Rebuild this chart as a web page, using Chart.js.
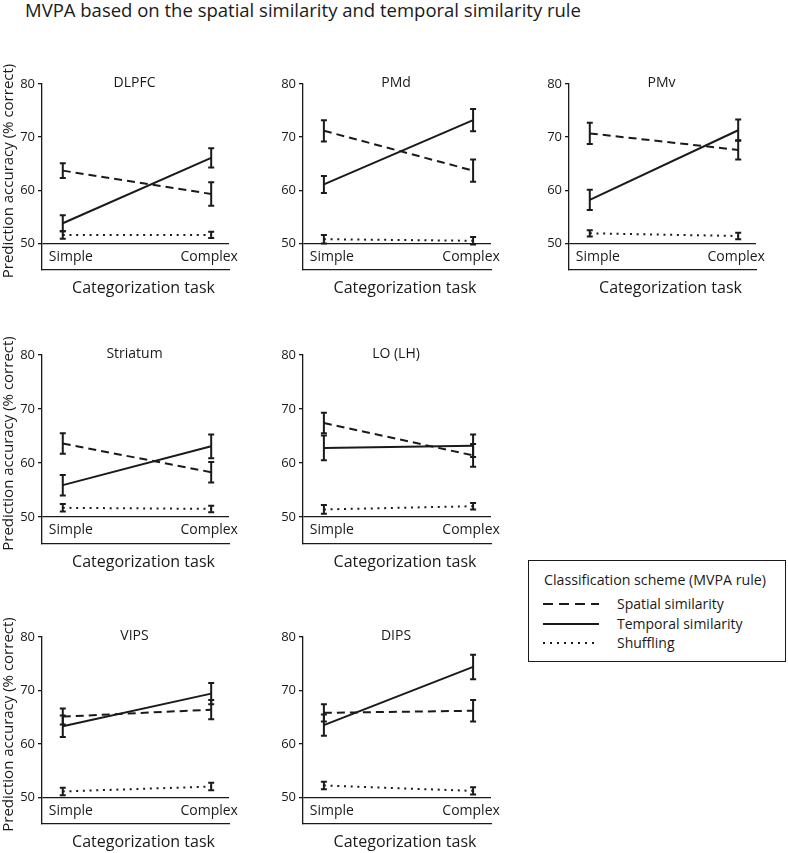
<!DOCTYPE html>
<html>
<head>
<meta charset="utf-8">
<script src="https://cdn.jsdelivr.net/npm/chart.js@4.4.1/dist/chart.umd.min.js"></script>
<style>
    body { margin: 0; background: #fff; width: 788px; height: 853px; position: relative; overflow: hidden;
           font-family: 'Open Sans', sans-serif; color: #1a1a1a; }
    .panel { position: absolute; }
    #mainTitle { position: absolute; left: 25px; top: -1px; font-size: 18.5px; line-height: 22px; white-space: nowrap; }
    #legend { position: absolute; left: 528px; top: 560px; width: 256px; height: 100px; border: 1.5px solid #1a1a1a; }
    #legend .head { position: absolute; left: 15px; top: 9px; font-size: 14.2px; line-height: 20px; white-space: nowrap; }
    #legend .row { position: absolute; left: 13px; height: 20px; width: 240px; }
    #legend .row svg { position: absolute; left: 0; top: 5px; }
    #legend .row span { position: absolute; left: 75px; top: 0; font-size: 14px; line-height: 20px; white-space: nowrap; }
</style>
</head>
<body>
<div id="mainTitle">MVPA based on the spatial similarity and temporal similarity rule</div>
<div id="legend"></div>
<script>
// ---- data ----
const regions = ['DLPFC', 'PMd', 'PMv', 'Striatum', 'LO (LH)', 'VIPS', 'DIPS'];
const tasks = ['Simple', 'Complex'];
const yTicks = [50, 60, 70, 80];

// [simple, complex] per region
const spatialMean  = [[63.7, 59.3], [71.2, 63.7], [70.7, 67.6], [63.6, 58.3], [67.4, 61.4], [65.1, 66.4], [65.8, 66.2]];
const spatialErr   = [[1.4, 2.2], [2.0, 2.1], [2.0, 1.8], [1.9, 1.9], [1.9, 2.1], [1.5, 1.8], [1.6, 2.0]];
const temporalMean = [[53.8, 66.1], [61.1, 73.2], [58.2, 71.3], [55.9, 63.1], [62.8, 63.2], [63.3, 69.4], [63.5, 74.4]];
const temporalErr  = [[1.5, 1.8], [1.6, 2.1], [1.9, 2.0], [1.9, 2.2], [2.3, 2.1], [2.0, 2.0], [2.0, 2.3]];
const shuffleMean  = [[51.6, 51.6], [50.8, 50.5], [51.9, 51.4], [51.7, 51.5], [51.4, 52.0], [51.1, 52.0], [52.2, 51.2]];
const shuffleErr   = [[0.7, 0.6], [0.8, 0.7], [0.6, 0.6], [0.7, 0.6], [0.8, 0.6], [0.7, 0.7], [0.7, 0.7]];

const seriesNames = ['Spatial similarity', 'Temporal similarity', 'Shuffling'];

// ---- layout / style ----
const ink = '#1a1a1a';
const fontFamily = "'Open Sans', sans-serif";
const dashes = [[8, 5], [], [2, 4.7]];
const legendDashes = ['10 6', '', '2 5'];

// grid slot of each region: [row, col]
const slots = [[0, 0], [0, 1], [0, 2], [1, 0], [1, 1], [2, 0], [2, 1]];
const colLeft = [42, 303, 569];
const colRight = [229, 491, 756];
const rowTop = [84, 355, 637];
const rowBottom = [270, 544, 824];
const padL = 42, padT = 20, padR = 24, padB = 34;

// draws error bars, panel title, task labels and axis titles
const panelDecor = {
    id: 'panelDecor',
    afterDatasetsDraw(chart, args, opts) {
        const { ctx, chartArea: a, scales: { x, y } } = chart;
        ctx.save();
        ctx.strokeStyle = ink;
        ctx.lineWidth = 2;
        ctx.setLineDash([]);
        chart.data.datasets.forEach(ds => {
            ds.data.forEach(p => {
                const px = x.getPixelForValue(p.x);
                const top = y.getPixelForValue(p.y + p.err);
                const bot = y.getPixelForValue(p.y - p.err);
                ctx.beginPath();
                ctx.moveTo(px, top); ctx.lineTo(px, bot);
                ctx.moveTo(px - 3, top); ctx.lineTo(px + 3, top);
                ctx.moveTo(px - 3, bot); ctx.lineTo(px + 3, bot);
                ctx.stroke();
            });
        });

        ctx.fillStyle = ink;
        ctx.textBaseline = 'middle';
        ctx.textAlign = 'center';
        const cx = (a.left + a.right) / 2;

        ctx.font = `14px ${fontFamily}`;
        ctx.fillText(opts.title, cx - 1, a.top - 1);

        ctx.font = `14px ${fontFamily}`;
        const ly = y.getPixelForValue(47.5);
        ctx.fillText(tasks[0], x.getPixelForValue(1) + 8, ly);
        ctx.fillText(tasks[1], x.getPixelForValue(2) - 2, ly);

        ctx.font = `16px ${fontFamily}`;
        ctx.fillText('Categorization task', cx + 8, a.bottom + 18);

        if (opts.yTitle) {
            ctx.font = `15px ${fontFamily}`;
            ctx.translate(a.left - 33, (a.top + a.bottom) / 2 - 6);
            ctx.rotate(-Math.PI / 2);
            ctx.fillText('Prediction accuracy (% correct)', 0, 0);
        }
        ctx.restore();
    }
};

function seriesData(means, errs) {
    return means.map((m, j) => ({ x: j + 1, y: m, err: errs[j] }));
}

function createPanel(i) {
    const [r, c] = slots[i];
    const w = colRight[c] - colLeft[c] + padL + padR;
    const h = rowBottom[r] - rowTop[r] + padT + padB;
    const canvas = document.createElement('canvas');
    canvas.className = 'panel';
    canvas.style.left = (colLeft[c] - padL) + 'px';
    canvas.style.top = (rowTop[r] - padT) + 'px';
    canvas.style.width = w + 'px';
    canvas.style.height = h + 'px';
    canvas.width = w;
    canvas.height = h;
    document.body.appendChild(canvas);

    const means = [spatialMean[i], temporalMean[i], shuffleMean[i]];
    const errs = [spatialErr[i], temporalErr[i], shuffleErr[i]];

    return new Chart(canvas, {
        type: 'line',
        data: {
            datasets: seriesNames.map((name, k) => ({
                label: name,
                data: seriesData(means[k], errs[k]),
                borderColor: ink,
                borderWidth: 2,
                borderDash: dashes[k],
                borderCapStyle: 'butt',
                pointRadius: 0,
                fill: false,
                tension: 0
            }))
        },
        options: {
            responsive: false,
            animation: false,
            events: [],
            layout: { padding: { left: 0, top: padT, right: padR, bottom: padB } },
            plugins: {
                legend: { display: false },
                tooltip: { enabled: false },
                panelDecor: { title: regions[i], yTitle: c === 0 }
            },
            scales: {
                x: {
                    type: 'linear',
                    min: 0.86,
                    max: 2.12,
                    ticks: { display: false },
                    grid: { display: true, drawTicks: false, color: 'rgba(0,0,0,0)' },
                    border: { display: true, color: ink, width: 1.3 },
                    afterFit: s => { s.height = 0; }
                },
                y: {
                    type: 'linear',
                    min: 45,
                    max: 80,
                    afterBuildTicks: s => { s.ticks = yTicks.map(v => ({ value: v })); },
                    ticks: {
                        color: ink,
                        padding: 3,
                        font: { family: fontFamily, size: 13 },
                        callback: v => v
                    },
                    grid: {
                        color: ctx => (ctx.tick && ctx.tick.value === 50) ? ink : 'rgba(0,0,0,0)',
                        lineWidth: 1.3,
                        tickColor: ink,
                        tickLength: 4
                    },
                    border: { display: true, color: ink, width: 1.3 },
                    afterFit: s => { s.width = padL; }
                }
            }
        },
        plugins: [panelDecor]
    });
}

regions.forEach((_, i) => createPanel(i));

// ---- shared legend ----
const legend = document.getElementById('legend');
legend.innerHTML = '<div class="head">Classification scheme (MVPA rule)</div>' +
    seriesNames.map((name, k) =>
        `<div class="row" style="top:${33 + k * 19.5}px">` +
        `<svg width="60" height="10"><line x1="1" y1="5" x2="57" y2="5" stroke="${ink}" stroke-width="2"` +
        (legendDashes[k] ? ` stroke-dasharray="${legendDashes[k]}"` : '') + '/></svg>' +
        `<span>${name}</span></div>`
    ).join('');
</script>
</body>
</html>
